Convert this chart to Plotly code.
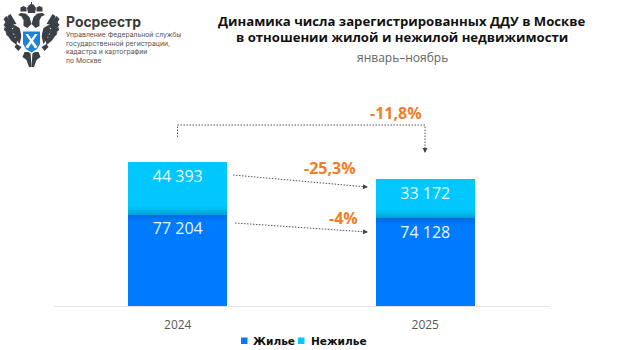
import plotly.graph_objects as go

years = ["2024", "2025"]
housing = [77204, 74128]
nonhousing = [44393, 33172]
totals = [121597, 107300]
change_total = "-11,8%"
change_nonhousing = "-25,3%"
change_housing = "-4%"
title_lines = ["Динамика числа зарегистрированных ДДУ в Москве",
               "в отношении жилой и нежилой недвижимости"]
subtitle = "январь–ноябрь"
org_name = "Росреестр"
org_lines = ["Управление Федеральной службы", "государственной регистрации,",
             "кадастра и картографии", "по Москве"]

W, H = 626, 350
L, R, T, B = 54, 549, 85, 306
BLUE, CYAN, ORANGE = "#007AFF", "#00C8FF", "#F07E26"
YMAX = (B - T) / 144 * 121597
UNIT = YMAX / (B - T)  # value units per pixel


def fmt(v):
    return f"{v:,}".replace(",", " ")


def px(x):
    return (x - L) / (R - L)


def py(y):
    return (B - y) / (B - T)


fig = go.Figure()
fig.add_bar(x=years, y=housing, name="Жилье", marker=dict(color=BLUE, line_width=0), width=0.4)
fig.add_bar(x=years, y=nonhousing, name="Нежилье", marker=dict(color=CYAN, line_width=0), width=0.4)
# value labels hung just under the top of each segment
LABEL_FONT = dict(family="Open Sans", size=16, color="#E6F7FF")
for tops, vals in [(housing, housing), (totals, nonhousing)]:
    fig.add_scatter(x=years, y=tops, mode="markers+text", text=[fmt(v) for v in vals],
                    marker=dict(size=11, color="rgba(0,0,0,0)"),
                    textposition="bottom center", textfont=LABEL_FONT, hoverinfo="skip",
                    showlegend=False, cliponaxis=False)

shapes, annos = [], []


def text(x, y, s, size, color, family="Open Sans", bold=False, anchor="center"):
    annos.append(dict(xref="paper", yref="paper", x=px(x), y=py(y), text=f"<b>{s}</b>" if bold else s,
                      showarrow=False, xanchor=anchor, yanchor="middle",
                      font=dict(family=family, size=size, color=color)))


# soft shadow around the boundary between the two segments
STEPS = 9
for i, h in enumerate(housing):
    for s in range(STEPS):
        shapes.append(dict(type="rect", xref="x", yref="y", layer="above", line_width=0,
                           x0=i - 0.2, x1=i + 0.2,
                           y0=h + s * UNIT, y1=h + (s + 1) * UNIT,
                           fillcolor="#004060", opacity=0.28 * (1 - s / STEPS) ** 1.5))
    for s in range(6):
        shapes.append(dict(type="rect", xref="x", yref="y", layer="above", line_width=0,
                           x0=i - 0.2, x1=i + 0.2,
                           y0=h - (s + 1) * UNIT, y1=h - s * UNIT,
                           fillcolor="#003080", opacity=0.22 * (1 - s / 6)))

# totals above the bars
for yr, t in zip(years, totals):
    annos.append(dict(x=yr, y=t, xref="x", yref="y", text=f"<b>{fmt(t)}</b>", showarrow=False,
                      yanchor="bottom", yshift=0,
                      font=dict(family="Open Sans", size=16, color="#000000")))

# connectors
DOT = dict(color="#555555", width=1, dash="1.5px,1.5px")
shapes.append(dict(type="path", xref="paper", yref="paper", line=DOT,
                   path=f"M{px(177.5)},{py(137)} L{px(177.5)},{py(125)} L{px(425)},{py(125)} L{px(425)},{py(150)}"))
for x0, y0, x1, y1 in [(233, 175, 367, 187), (235, 223, 367, 232)]:
    shapes.append(dict(type="line", xref="paper", yref="paper", line=DOT,
                       x0=px(x0), y0=py(y0), x1=px(x1), y1=py(y1)))
for x0, y0, x1, y1 in [(425, 146, 425, 153), (362, 186.6, 368, 187), (362, 231.6, 368, 232)]:
    annos.append(dict(xref="paper", yref="paper",
                      x=px(x1), y=py(y1), ax=x0 - x1, ay=y0 - y1, text="", showarrow=True,
                      arrowhead=2, arrowsize=1, arrowwidth=1, arrowcolor="#444444"))

text(396, 113, change_total, 16, ORANGE, bold=True)
text(330, 168, change_nonhousing, 16, ORANGE, bold=True)
text(343, 218, change_housing, 16, ORANGE, bold=True)

# heading
text(402, 21, title_lines[0], 13.15, "#111111", bold=True)
text(402, 37, title_lines[1], 13.15, "#111111", bold=True)
text(402, 57, subtitle, 12, "#666666")

# legend
for x, c in [(241, BLUE), (298, CYAN)]:
    shapes.append(dict(type="rect", xref="paper", yref="paper", line_width=0, fillcolor=c,
                       x0=px(x), x1=px(x + 6.5), y0=py(344), y1=py(337.5)))
text(250.5, 341, "Жилье", 10.6, "#111111", family="DejaVu Sans", bold=True, anchor="left")
text(308.5, 341, "Нежилье", 10.6, "#111111", family="DejaVu Sans", bold=True, anchor="left")

# organisation block
text(63.5, 22, org_name, 13.9, "#3A3A3A", family="Inter", bold=True, anchor="left")
for i, line in enumerate(org_lines):
    text(63.5, 35 + i * 8.4, line, 6.8, "#555555", family="Inter", anchor="left")


def poly(points, color):
    path = "M" + " L".join(f"{px(x)},{py(y)}" for x, y in points) + " Z"
    shapes.append(dict(type="path", xref="paper", yref="paper", path=path, fillcolor=color, line_width=0))


# stylised emblem: two-headed eagle with shield
DARK = "#3B3F46"
CX = 31.5
for sign in (-1, 1):
    m = lambda pts: [(CX + sign * x, y) for x, y in pts]
    # wing feathers (separate blades fanning outward)
    poly(m([(15, 24), (21, 14), (24, 16), (21, 25)]), DARK)
    poly(m([(16, 27), (25, 16), (28, 19), (22, 29)]), DARK)
    poly(m([(18, 30), (26, 22), (28, 25), (21, 33)]), DARK)
    poly(m([(17, 32), (27, 27), (27.5, 30), (20, 37)]), DARK)
    poly(m([(16, 35), (26, 32), (25, 35), (18, 41)]), DARK)
    poly(m([(14, 38), (23, 37), (20, 41), (15, 45)]), DARK)
    poly(m([(12, 28), (17, 25), (19, 30), (15, 40), (12, 44), (10, 36)]), DARK)
    # neck and head
    poly(m([(0, 24), (2, 17), (6, 13.5), (11, 13), (13.5, 15), (10, 16.5), (8, 20), (8, 26), (4, 28)]), DARK)
    # head crowns
    poly(m([(5, 11.5), (5, 7.5), (8, 6), (11, 7.5), (11, 11.5)]), DARK)
    # orb and sceptre
    poly(m([(10, 47), (15, 44), (17, 47), (13, 51)]), DARK)
    # tail
    poly(m([(1, 52), (7, 52), (9, 57), (5, 60), (2.5, 67), (0, 67)]), DARK)
# centre crown
poly([(28, 13), (27, 8), (29, 5), (31, 4), (31, 2), (32, 2), (32, 4), (34, 5), (36, 8), (35, 13)], DARK)
# shield
poly([(21.5, 30), (41.5, 30), (41.5, 44), (38, 50), (31.5, 54), (25, 50), (21.5, 44)], "#FFFFFF")
poly([(23, 31.5), (40, 31.5), (40, 44), (37, 49), (31.5, 52.5), (26, 49), (23, 44)], "#1F80D8")
poly([(25.5, 34), (28, 34), (37.5, 47), (35, 48.5)], "#FFFFFF")
poly([(35, 34), (37.5, 34), (28, 48.5), (25.5, 47)], "#FFFFFF")

fig.update_layout(
    width=W, height=H, barmode="stack", bargap=0.6, showlegend=False,
    paper_bgcolor="#FFFFFF", plot_bgcolor="#FFFFFF",
    margin=dict(l=L, r=W - R, t=T, b=H - B, pad=0),
    xaxis=dict(type="category", range=[-0.5, 1.5], showgrid=False, ticks="", showline=True,
               linecolor="#E3E3E3", linewidth=1, ticklabelstandoff=8,
               tickfont=dict(family="Open Sans", size=12, color="#595959")),
    yaxis=dict(range=[0, YMAX], visible=False),
    shapes=shapes, annotations=annos,
)
fig.write_html("out.html", config={"displayModeBar": False},
               post_script="document.body.style.margin='0';window.dispatchEvent(new Event('resize'));")
